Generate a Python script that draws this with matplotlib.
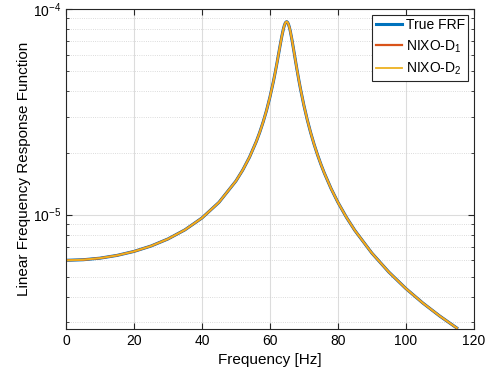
import matplotlib
matplotlib.use("Agg")
import matplotlib.pyplot as plt
from matplotlib.ticker import LogLocator, NullFormatter, MultipleLocator

plt.rcParams['font.family'] = ['Liberation Sans', 'DejaVu Sans']
plt.rcParams['mathtext.fontset'] = 'custom'
plt.rcParams['mathtext.rm'] = 'Liberation Sans'
plt.rcParams['mathtext.it'] = 'Liberation Sans:italic'

freq = [0, 5, 10, 15, 20, 25, 30, 35, 40, 45, 50, 52, 54, 56, 57, 58, 59, 60, 61, 61.5,
        62, 62.5, 63, 63.5, 64, 64.25, 64.5, 64.75, 65, 65.25, 65.5, 65.75, 66, 66.5, 67,
        67.5, 68, 68.5, 69, 70, 71, 72, 73, 74, 75, 76, 78, 80, 82.5, 85, 90, 95, 100,
        105, 110, 115]
true_frf = [6.00e-6, 6.036e-6, 6.145e-6, 6.337e-6, 6.626e-6, 7.038e-6, 7.618e-6, 8.438e-6,
            9.635e-6, 1.1474e-5, 1.4573e-5, 1.6473e-5, 1.904e-5, 2.268e-5, 2.512e-5,
            2.818e-5, 3.209e-5, 3.724e-5, 4.417e-5, 4.856e-5, 5.369e-5, 5.965e-5, 6.638e-5,
            7.357e-5, 8.036e-5, 8.316e-5, 8.528e-5, 8.650e-5, 8.671e-5, 8.585e-5, 8.401e-5,
            8.136e-5, 7.812e-5, 7.075e-5, 6.327e-5, 5.642e-5, 5.042e-5, 4.529e-5, 4.093e-5,
            3.404e-5, 2.893e-5, 2.504e-5, 2.201e-5, 1.958e-5, 1.760e-5, 1.596e-5, 1.340e-5,
            1.1499e-5, 9.721e-6, 8.382e-6, 6.507e-6, 5.260e-6, 4.376e-6, 3.719e-6,
            3.213e-6, 2.812e-6]
nixo_d1 = list(true_frf)
nixo_d2 = list(true_frf)

fig = plt.figure(figsize=(5.04, 3.76), dpi=100)
ax = fig.add_axes([0.131, 0.125, 0.809, 0.851])

ax.semilogy(freq, true_frf, color=(0, 0.447, 0.741), lw=2.2, label='True FRF')
ax.semilogy(freq, nixo_d1, color=(0.85, 0.325, 0.098), lw=1.6, label='NIXO-D$_1$')
ax.semilogy(freq, nixo_d2, color=(0.929, 0.694, 0.125), lw=1.3, label='NIXO-D$_2$')

ax.set_xlim(0, 120)
ax.set_ylim(2.78e-6, 1e-4)
ax.xaxis.set_major_locator(MultipleLocator(20))
ax.yaxis.set_major_locator(LogLocator(base=10, numticks=10))
ax.yaxis.set_minor_locator(LogLocator(base=10, subs=range(2, 10), numticks=20))
ax.yaxis.set_minor_formatter(NullFormatter())

ax.grid(True, which='major', color='#dcdcdc', lw=0.8, ls='-')
ax.grid(True, which='minor', axis='y', color='#d0d0d0', lw=0.6, ls=':')
ax.set_axisbelow(True)

ax.tick_params(which='both', direction='in', top=True, right=True, labelsize=10, color='#262626')
ax.tick_params(which='major', length=4)
ax.tick_params(which='minor', length=2.5)
for s in ax.spines.values():
    s.set_color('#262626')
    s.set_linewidth(0.8)

ax.set_xlabel('Frequency [Hz]', fontsize=11)
ax.set_ylabel('Linear Frequency Response Function', fontsize=11, labelpad=1)

leg = ax.legend(loc='upper right', fontsize=10, fancybox=False, framealpha=1,
                edgecolor='#262626', handlelength=1.9, borderpad=0.25, labelspacing=0.45,
                handletextpad=0.25, borderaxespad=0.4)
leg.get_frame().set_linewidth(0.8)

fig.savefig('out.png', dpi=100)
